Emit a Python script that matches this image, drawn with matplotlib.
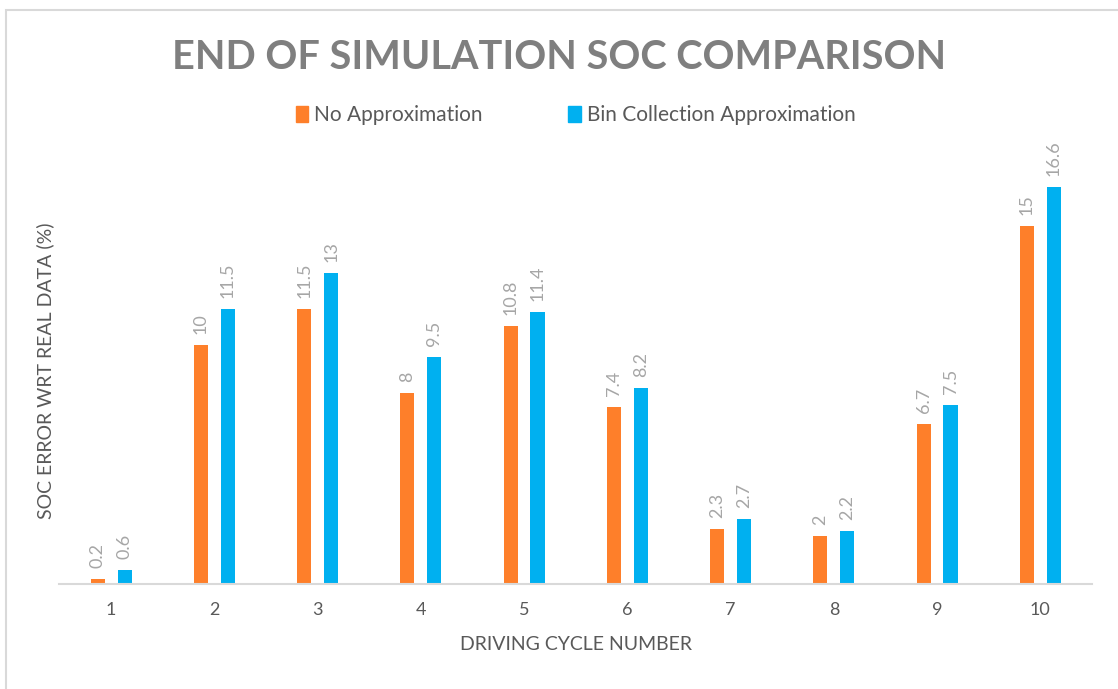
import numpy as np
import matplotlib.pyplot as plt
from matplotlib.patches import Rectangle

plt.rcParams['font.family'] = ['Lato', 'DejaVu Sans']

cycles = ['1', '2', '3', '4', '5', '6', '7', '8', '9', '10']
no_approx = [0.2, 10, 11.5, 8, 10.8, 7.4, 2.3, 2, 6.7, 15]
bin_approx = [0.6, 11.5, 13, 9.5, 11.4, 8.2, 2.7, 2.2, 7.5, 16.6]
series_names = ['No Approximation', 'Bin Collection Approximation']
colors = ['#FE7F2A', '#00B0F0']

fig = plt.figure(figsize=(11.18, 6.89), dpi=100)
ax = fig.add_axes([0.0532, 0.1524, 0.9235, 0.6241])

# light frame around the chart area
fig.patches.append(Rectangle((0.005, -0.05), 1.2, 1.036, transform=fig.transFigure,
                             fill=False, edgecolor='#D9D9D9', linewidth=1.5))

x = np.arange(len(cycles))
w = 0.136
off = 0.13
for vals, dx, c in [(no_approx, -off, colors[0]), (bin_approx, off, colors[1])]:
    ax.bar(x + dx, vals, width=w, color=c, zorder=2)
    for xi, v in zip(x, vals):
        ax.annotate("%g" % v, (xi + dx, v), xytext=(0, 8), textcoords='offset points',
                    rotation=90, ha='center', va='bottom', fontsize=13, color='#A6A6A6')

ax.set_xlim(-0.5, 9.5)
ax.set_ylim(0, 18)
ax.set_xticks(x)
ax.set_xticklabels(cycles, fontsize=13, color='#595959')
ax.set_yticks([])
ax.tick_params(axis='x', length=0, pad=13)
for s in ['top', 'right', 'left']:
    ax.spines[s].set_visible(False)
ax.spines['bottom'].set_color('#D9D9D9')
ax.spines['bottom'].set_linewidth(1.5)

ax.set_xlabel('DRIVING CYCLE NUMBER', fontsize=14, color='#595959', labelpad=13)
fig.text(0.040, 0.462, 'SOC ERROR WRT REAL DATA (%)', rotation=90, ha='center', va='center',
         fontsize=14, color='#595959')

fig.text(0.5, 0.916, 'END OF SIMULATION SOC COMPARISON',
         ha='center', va='center', fontsize=28.5, fontweight='bold', color='#7F7F7F')

# legend
handles = [Rectangle((0, 0), 1, 1, color=c) for c in colors]
fig.legend(handles, series_names, loc='center', bbox_to_anchor=(0.515, 0.833), ncol=2,
           frameon=False, fontsize=15, handlelength=0.6, handleheight=0.8,
           handletextpad=0.3, columnspacing=4.1, labelcolor='#595959')

fig.savefig('out.png', dpi=100)
